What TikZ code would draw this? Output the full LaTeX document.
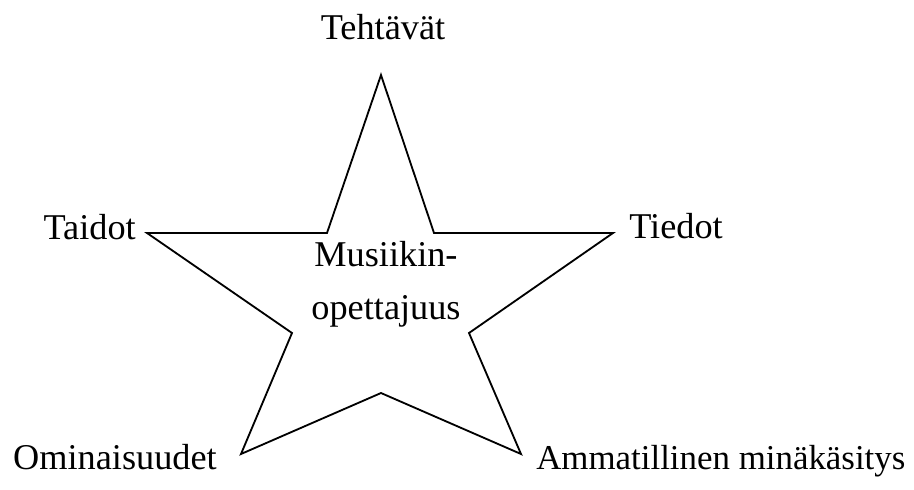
\documentclass[tikz,border=0pt]{standalone}
\usepackage{fontspec}
\setmainfont{Liberation Serif}
\usetikzlibrary{positioning}

\begin{document}
\begin{tikzpicture}[x=0.025cm,y=-0.025cm,
  mylabel/.style={inner sep=0pt,font=\fontsize{25.8}{37.5}\selectfont},
  mystar/.style={draw,line width=1.3pt,line join=miter},
 ]
\useasboundingbox (0,0) rectangle (914,489);

% star points
\coordinate (T) at (381,75);
\coordinate (I1) at (434,233);
\coordinate (R) at (613,233);
\coordinate (I2) at (469,333);
\coordinate (BR) at (521,454);
\coordinate (I3) at (381,393);
\coordinate (BL) at (241,454);
\coordinate (I4) at (292,333);
\coordinate (L) at (147,233);
\coordinate (I5) at (327,233);

\path[mystar] (T) -- (I1) -- (R) -- (I2) -- (BR) -- (I3) -- (BL) -- (I4) -- (L) -- (I5) -- cycle;

\node[mylabel, anchor=base] (tehtavat) at (383,39.7) {Tehtävät};
\node[mylabel, anchor=base east] (taidot) at (136,239) {Taidot};
\node[mylabel, anchor=base west] (tiedot) at (629,238) {Tiedot};
\node[mylabel, anchor=base east] (ominaisuudet) at (217,469) {Ominaisuudet};
\node[mylabel, anchor=base west, font=\fontsize{24.8}{37.5}\selectfont] (minakasitys) at (536,469) {Ammatillinen minäkäsitys};
\node[mylabel, align=center] (opettajuus) at (386,284) {Musiikin-\\opettajuus};

\end{tikzpicture}
\end{document}
